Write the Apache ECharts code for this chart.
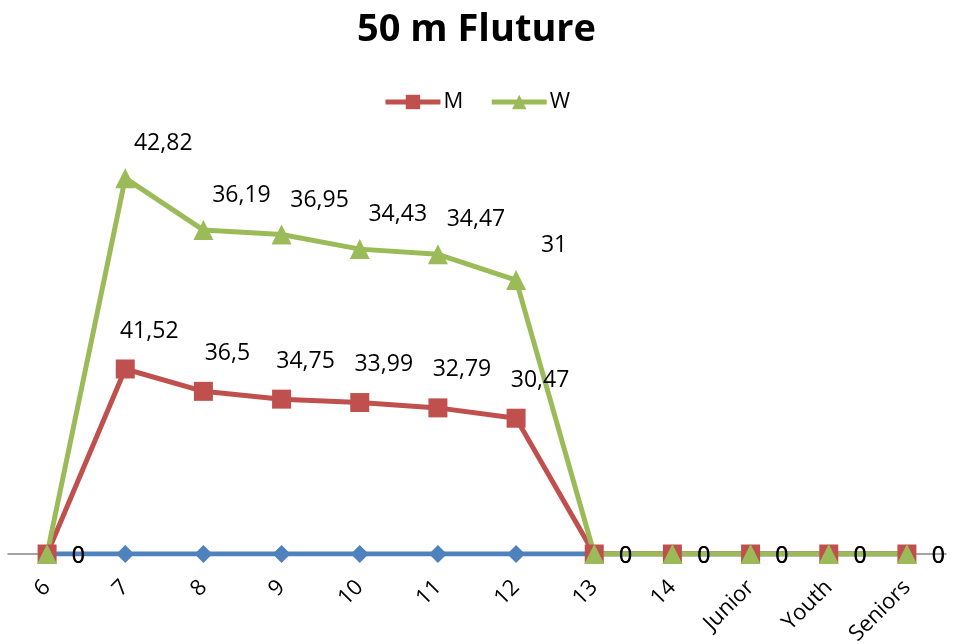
<!DOCTYPE html>
<html>
<head>
<meta charset="utf-8">
<script src="https://cdn.jsdelivr.net/npm/echarts@6/dist/echarts.min.js"></script>
<style>
  html, body { margin: 0; padding: 0; background: #fff; }
  #chart { width: 953px; height: 644px; }
</style>
</head>
<body>
<div id="chart"></div>
<script>
// Age groups along the horizontal axis
const categories = ['6', '7', '8', '9', '10', '11', '12', '13', '14', 'Junior', 'Youth', 'Seniors'];
// Baseline series (all zero, not shown in the legend)
const baseValues = [0, 0, 0, 0, 0, 0, 0, 0, 0, 0, 0, 0];
// 50 m butterfly times, men
const menValues = [0, 41.52, 36.5, 34.75, 33.99, 32.79, 30.47, 0, 0, 0, 0, 0];
// 50 m butterfly times, women
const womenValues = [0, 42.82, 36.19, 36.95, 34.43, 34.47, 31, 0, 0, 0, 0, 0];

const FONT = "'Open Sans', 'Liberation Sans', sans-serif";

function fmt(v) {
  return String(v).replace('.', ',');
}

// Per-point labels: zero values sit to the right of the marker, others above-right
function withLabels(values, nudge) {
  return values.map(v => ({
    value: v,
    label: v === 0
      ? { position: 'right', distance: 15, offset: [0, 2] }
      : { position: 'top', distance: 5, offset: nudge }
  }));
}

const chart = echarts.init(document.getElementById('chart'), null, { renderer: 'canvas' });

chart.setOption({
  animation: false,
  backgroundColor: '#ffffff',
  title: {
    text: '50 m Fluture',
    left: 'center',
    top: 6,
    textStyle: { fontFamily: FONT, fontSize: 38, fontWeight: 'bold', color: '#000' }
  },
  legend: {
    data: ['M', 'W'],
    top: 86,
    left: 'center',
    itemWidth: 55,
    itemHeight: 18,
    itemGap: 26,
    lineStyle: { width: 5 },
    textStyle: { fontFamily: FONT, fontSize: 22, color: '#000', padding: [0, 0, 0, -2] }
  },
  grid: {
    left: 8,
    width: 938,
    top: 108.4,
    height: 445.6,
    containLabel: false,
    outerBoundsMode: 'none'
  },
  xAxis: {
    type: 'category',
    data: categories,
    boundaryGap: true,
    axisLine: { show: true, lineStyle: { color: '#868686', width: 1.5 } },
    axisTick: { show: false },
    axisLabel: {
      rotate: 45,
      margin: 30,
      interval: 0,
      fontFamily: FONT,
      fontSize: 22,
      color: '#000'
    },
    splitLine: { show: false }
  },
  yAxis: {
    type: 'value',
    min: 0,
    max: 100,
    show: false,
    splitLine: { show: false }
  },
  series: [
    {
      name: 'Series1',
      type: 'line',
      stack: 'total',
      data: baseValues,
      symbol: 'diamond',
      symbolSize: 18,
      lineStyle: { color: '#4F81BD', width: 5 },
      itemStyle: { color: '#4F81BD' },
      label: { show: false }
    },
    {
      name: 'M',
      type: 'line',
      stack: 'total',
      data: withLabels(menValues, [24, -12]),
      symbol: 'rect',
      symbolSize: 19,
      lineStyle: { color: '#C0504D', width: 5 },
      itemStyle: { color: '#C0504D' },
      label: {
        show: true,
        fontFamily: FONT,
        fontSize: 23,
        color: '#000',
        formatter: p => fmt(p.value)
      }
    },
    {
      name: 'W',
      type: 'line',
      stack: 'total',
      data: withLabels(womenValues, [38, -8]),
      symbol: 'triangle',
      symbolSize: 20,
      lineStyle: { color: '#9BBB59', width: 5 },
      itemStyle: { color: '#9BBB59' },
      label: {
        show: true,
        fontFamily: FONT,
        fontSize: 23,
        color: '#000',
        formatter: p => fmt(p.value)
      }
    }
  ]
});
</script>
</body>
</html>
